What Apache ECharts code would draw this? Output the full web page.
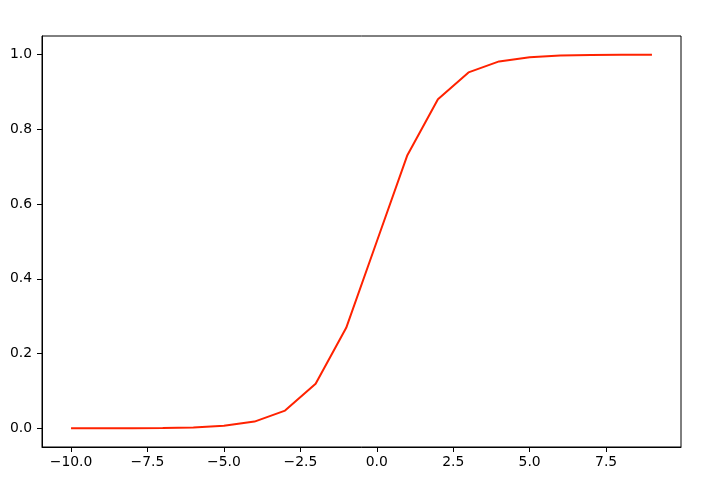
<!DOCTYPE html>
<html>
<head>
<meta charset="utf-8">
<script src="https://cdn.jsdelivr.net/npm/echarts@6/dist/echarts.min.js"></script>
<style>
html,body{margin:0;padding:0;background:#fff;}
#chart{width:708px;height:484px;}
</style>
</head>
<body>
<div id="chart"></div>
<script>
var xValues = [-10,-9,-8,-7,-6,-5,-4,-3,-2,-1,0,1,2,3,4,5,6,7,8,9];
var yValues = [0.0000454,0.000123,0.000335,0.000911,0.00247,0.00669,0.0180,0.0474,0.1192,0.2689,0.5,0.7311,0.8808,0.9526,0.9820,0.9933,0.9975,0.9991,0.99966,0.99988];
var xTicks = [-10,-7.5,-5,-2.5,0,2.5,5,7.5];
var xTickLabels = ['\u221210.0','\u22127.5','\u22125.0','\u22122.5','0.0','2.5','5.0','7.5'];
var yTicks = [0,0.2,0.4,0.6,0.8,1.0];
var yTickLabels = ['0.0','0.2','0.4','0.6','0.8','1.0'];

var points = xValues.map(function(x,i){return [x,yValues[i]];});
var font = 'DejaVu Sans';
function lab(ticks, labels){
  return function(v){
    for (var i=0;i<ticks.length;i++){ if (Math.abs(ticks[i]-v)<1e-9) return labels[i]; }
    return '';
  };
}
var chart = echarts.init(document.getElementById('chart'), null, {renderer:'canvas'});
chart.setOption({
  animation:false,
  backgroundColor:'#fff',
  grid:{left:42,right:27,top:36,bottom:37,show:true,borderColor:'#000',borderWidth:1,backgroundColor:'transparent'},
  xAxis:{
    type:'value', min:-10.95, max:9.95,
    axisLine:{show:true,onZero:false,lineStyle:{color:'#000',width:1}},
    splitLine:{show:false},
    axisTick:{show:true,inside:false,length:5,customValues:xTicks,lineStyle:{color:'#000',width:1}},
    axisLabel:{show:true,customValues:xTicks,formatter:lab(xTicks,xTickLabels),margin:8,color:'#000',fontFamily:font,fontSize:13.9,showMinLabel:true,showMaxLabel:true}
  },
  yAxis:{
    type:'value', min:-0.04997, max:1.04997,
    axisLine:{show:true,onZero:false,lineStyle:{color:'#000',width:1}},
    splitLine:{show:false},
    axisTick:{show:true,inside:false,length:5,customValues:yTicks,lineStyle:{color:'#000',width:1}},
    axisLabel:{show:true,customValues:yTicks,formatter:lab(yTicks,yTickLabels),margin:10,color:'#000',fontFamily:font,fontSize:13.9,showMinLabel:true,showMaxLabel:true}
  },
  series:[{
    type:'line', data:points, symbol:'none', smooth:false,
    lineStyle:{color:'#ff2200',width:2}
  }]
});
</script>
</body>
</html>
